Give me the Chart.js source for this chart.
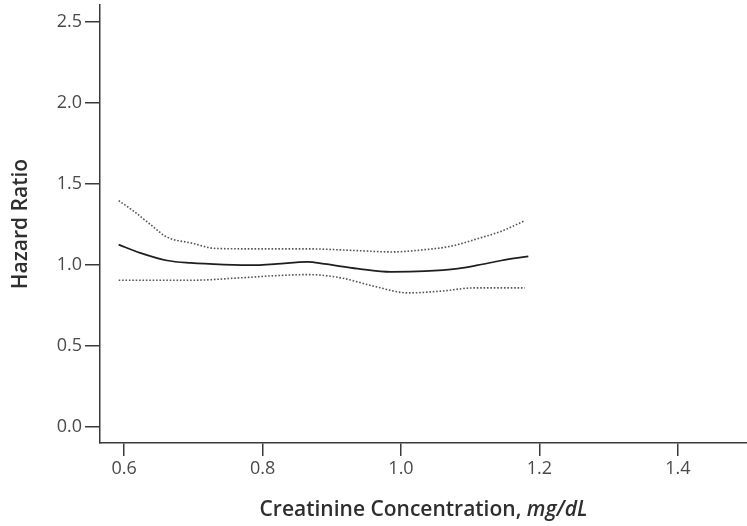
<!DOCTYPE html>
<html>
<head>
<meta charset="utf-8">
<script src="https://cdn.jsdelivr.net/npm/chart.js@4.4.1/dist/chart.umd.min.js"></script>
<style>
  body { margin: 0; background: #fff; }
  #wrap { width: 747px; height: 526px; position: relative; }
</style>
</head>
<body>
<div id="wrap"><canvas id="hr"></canvas></div>
<script>
// creatinine (mg/dL) vs hazard ratio
const hrX = [0.592, 0.623, 0.662, 0.696, 0.744, 0.792, 0.821, 0.865, 0.889, 0.937, 0.986, 1.034, 1.082, 1.111, 1.145, 1.184];
const hrY = [1.125, 1.074, 1.027, 1.012, 1.002, 0.998, 1.006, 1.018, 1.006, 0.977, 0.957, 0.961, 0.977, 0.998, 1.027, 1.053];

const upperX = [0.592, 0.614, 0.638, 0.662, 0.696, 0.734, 0.792, 0.865, 0.937, 0.986, 1.034, 1.072, 1.106, 1.145, 1.179];
const upperY = [1.397, 1.331, 1.249, 1.171, 1.136, 1.101, 1.099, 1.099, 1.088, 1.080, 1.094, 1.115, 1.156, 1.208, 1.273];

const lowerX = [0.592, 0.696, 0.768, 0.821, 0.865, 0.913, 0.961, 1.010, 1.058, 1.106, 1.179];
const lowerY = [0.905, 0.905, 0.920, 0.934, 0.940, 0.920, 0.868, 0.827, 0.838, 0.858, 0.858];

const xTicks = [0.6, 0.8, 1.0, 1.2, 1.4];
const yTicks = [0.0, 0.5, 1.0, 1.5, 2.0, 2.5];

const pts = (xs, ys) => xs.map((x, i) => ({ x: x, y: ys[i] }));
const axisColor = '#3a3a3a';
const font = '"Open Sans", "Noto Sans", sans-serif';

// x title has an italic unit, so draw it by hand
const xTitle = {
  id: 'xTitle',
  afterDraw(chart) {
    const ctx = chart.ctx;
    const a = 'Creatinine Concentration, ';
    const b = 'mg/dL';
    const cx = (chart.chartArea.left + chart.chartArea.right) / 2;
    ctx.save();
    ctx.fillStyle = '#2e2e2e';
    ctx.textBaseline = 'middle';
    ctx.font = '600 21px ' + font;
    const wa = ctx.measureText(a).width;
    ctx.font = 'italic 600 21px ' + font;
    const wb = ctx.measureText(b).width;
    const x0 = cx - (wa + wb) / 2;
    ctx.font = '600 21px ' + font;
    ctx.fillText(a, x0, 510);
    ctx.font = 'italic 600 21px ' + font;
    ctx.fillText(b, x0 + wa, 510);
    ctx.restore();
  }
};

new Chart(document.getElementById('hr'), {
  type: 'line',
  data: {
    datasets: [
      {
        label: 'Hazard ratio',
        data: pts(hrX, hrY),
        borderColor: '#1e1e1e',
        borderWidth: 1.7,
        pointRadius: 0,
        cubicInterpolationMode: 'monotone'
      },
      {
        label: 'Upper 95% CI',
        data: pts(upperX, upperY),
        borderColor: '#555',
        borderWidth: 1.6,
        borderDash: [1.6, 1.8],
        pointRadius: 0,
        cubicInterpolationMode: 'monotone'
      },
      {
        label: 'Lower 95% CI',
        data: pts(lowerX, lowerY),
        borderColor: '#555',
        borderWidth: 1.6,
        borderDash: [1.6, 1.8],
        pointRadius: 0,
        cubicInterpolationMode: 'monotone'
      }
    ]
  },
  options: {
    responsive: true,
    maintainAspectRatio: false,
    animation: false,
    layout: { padding: { top: 5, right: 0, left: 0, bottom: 0 } },
    plugins: { legend: { display: false }, tooltip: { enabled: false } },
    scales: {
      x: {
        type: 'linear',
        min: 0.565,
        max: 1.5,
        afterBuildTicks: s => { s.ticks = xTicks.map(v => ({ value: v })); },
        afterFit: s => { s.height = 83; },
        grid: { drawOnChartArea: false, drawTicks: true, tickLength: 13, color: axisColor, lineWidth: 1.5 },
        border: { display: true, color: axisColor, width: 1.5 },
        ticks: {
          padding: 2,
          color: '#4a4a4a',
          font: { family: font, size: 18 },
          callback: v => v.toFixed(1)
        }
      },
      y: {
        min: -0.1,
        max: 2.605,
        afterBuildTicks: s => { s.ticks = yTicks.map(v => ({ value: v })); },
        afterFit: s => { s.width = 100; s.paddingTop = 0; s.paddingBottom = 0; },
        grid: { drawOnChartArea: false, drawTicks: true, tickLength: 15, color: axisColor, lineWidth: 1.5 },
        border: { display: true, color: axisColor, width: 1.5 },
        ticks: {
          padding: 3,
          color: '#4a4a4a',
          font: { family: font, size: 18 },
          callback: v => v.toFixed(1)
        },
        title: {
          display: true,
          text: 'Hazard Ratio',
          color: '#2e2e2e',
          font: { family: font, size: 21, weight: '600' },
          padding: { top: 8, bottom: 0 }
        }
      }
    }
  },
  plugins: [xTitle]
});
</script>
</body>
</html>
